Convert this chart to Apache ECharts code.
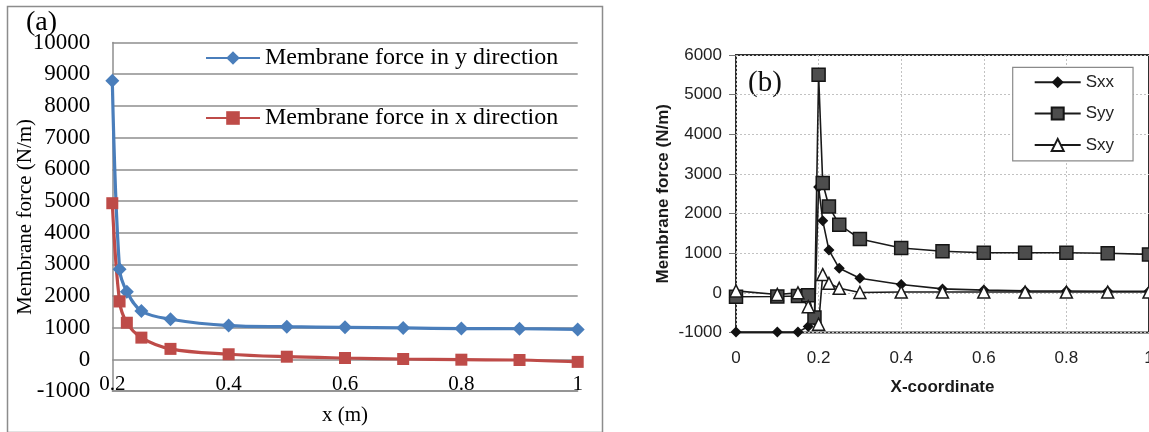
<!DOCTYPE html>
<html>
<head>
<meta charset="utf-8">
<script src="https://cdn.jsdelivr.net/npm/echarts@6/dist/echarts.min.js"></script>
<style>
  html, body { margin: 0; padding: 0; background: #ffffff; }
  #chart { width: 1149px; height: 432px; }
</style>
</head>
<body>
<div id="chart"></div>
<script>
// ---- Panel (a): computed membrane forces along the strip (N/m) ----
const xA = [0.2, 0.2125, 0.225, 0.25, 0.3, 0.4, 0.5, 0.6, 0.7, 0.8, 0.9, 1.0];
const forceYDir = [8790, 2850, 2140, 1530, 1270, 1070, 1035, 1015, 995, 975, 970, 950];
const forceXDir = [4930, 1830, 1160, 690, 335, 165, 88, 47, 16, -6, -16, -75];
const seriesNamesA = ['Membrane force in y direction', 'Membrane force in x direction'];

// ---- Panel (b): reference solution (N/m) ----
const xB  = [0, 0.1, 0.15, 0.175, 0.19, 0.2, 0.21, 0.225, 0.25, 0.3, 0.4, 0.5, 0.6, 0.7, 0.8, 0.9, 1.0];
const sxx = [-990, -990, -990, -850, -700, 2670, 1820, 1080, 620, 370, 210, 100, 70, 50, 45, 40, 40];
const syy = [-100, -90, -80, -60, -620, 5500, 2770, 2180, 1720, 1360, 1130, 1050, 1010, 1010, 1010, 1000, 970];
const sxy = [50, -40, 0, -350, null, -790, 460, 240, 115, 10, 20, 20, 20, 20, 20, 20, 20];
const seriesNamesB = ['Sxx', 'Syy', 'Sxy'];

const pairs = (xs, ys) => xs.map((x, i) => [x, ys[i]]);
const plainInt = v => String(Math.round(v));
const oneDecimal = v => String(Math.round(v * 10) / 10);

const SERIF = 'Liberation Serif';
const SANS = 'Liberation Sans';
const GRID_GREY = '#8e8e8e';
const DASH_GREY = '#c2c2c2';

const chart = echarts.init(document.getElementById('chart'), null, { renderer: 'canvas' });

chart.setOption({
  backgroundColor: '#ffffff',
  animation: false,
  graphic: [
    // frame around panel (a)
    { type: 'rect', left: 5, top: 4, shape: { x: 0, y: 0, width: 595, height: 426 },
      style: { fill: 'none', stroke: '#8c8c8c', lineWidth: 1.5 }, silent: true },
    { type: 'text', left: 26, top: 9,
      style: { text: '(a)', font: '28px "Liberation Serif"', fill: '#000' } },
    { type: 'text', left: 748, top: 69,
      style: { text: '(b)', font: '29px "Liberation Serif"', fill: '#111' } }
  ],
  grid: [
    { left: 112.3, top: 42.5, width: 465.4, height: 348.7, outerBoundsMode: 'none', containLabel: false },
    { left: 736, top: 55, width: 413, height: 277.5, outerBoundsMode: 'none', containLabel: false,
      show: true, borderColor: '#2e2e2e', borderWidth: 2, backgroundColor: 'transparent' }
  ],
  xAxis: [
    {
      gridIndex: 0, type: 'value', min: 0.2, max: 1, interval: 0.2,
      name: 'x (m)', nameLocation: 'middle', nameGap: 14, nameMoveOverlap: false,
      nameTextStyle: { fontFamily: SERIF, fontSize: 21, color: '#000' },
      axisLine: { show: true, onZero: false, lineStyle: { color: GRID_GREY, width: 1.5 } },
      axisTick: { show: false },
      splitLine: { show: false },
      axisLabel: { inside: true, margin: -4, fontFamily: SERIF, fontSize: 21, color: '#000',
        formatter: oneDecimal }
    },
    {
      gridIndex: 1, type: 'value', min: 0, max: 1, interval: 0.2,
      name: 'X-coordinate', nameLocation: 'middle', nameGap: 46, nameMoveOverlap: false,
      nameTextStyle: { fontFamily: SANS, fontSize: 17, fontWeight: 'bold', color: '#1a1a1a' },
      axisLine: { show: false },
      axisTick: { show: false },
      splitLine: { show: true, lineStyle: { color: DASH_GREY, width: 1, type: [2, 2] } },
      axisLabel: { margin: 17, fontFamily: SANS, fontSize: 17, color: '#222',
        formatter: oneDecimal }
    }
  ],
  yAxis: [
    {
      gridIndex: 0, type: 'value', min: -1000, max: 10000, interval: 1000,
      name: 'Membrane force (N/m)', nameLocation: 'middle', nameGap: 76, nameMoveOverlap: false,
      nameTextStyle: { fontFamily: SERIF, fontSize: 21, color: '#000' },
      axisLine: { show: true, lineStyle: { color: GRID_GREY, width: 1.5 } },
      axisTick: { show: false },
      splitLine: { show: true, lineStyle: { color: GRID_GREY, width: 1.5 } },
      axisLabel: { margin: 22, fontFamily: SERIF, fontSize: 23, color: '#000', formatter: plainInt }
    },
    {
      gridIndex: 1, type: 'value', min: -1000, max: 6000, interval: 1000,
      name: 'Membrane force (N/m)', nameLocation: 'middle', nameGap: 64, nameMoveOverlap: false,
      nameTextStyle: { fontFamily: SANS, fontSize: 17, fontWeight: 'bold', color: '#1a1a1a' },
      axisLine: { show: false },
      axisTick: { show: true, inside: false, length: 7, lineStyle: { color: '#777', width: 1 } },
      splitLine: { show: true, lineStyle: { color: DASH_GREY, width: 1, type: [2, 2] } },
      axisLabel: { margin: 14, fontFamily: SANS, fontSize: 17, color: '#222', formatter: plainInt }
    }
  ],
  legend: [
    {
      data: seriesNamesA, orient: 'vertical', left: 205, top: 46, padding: 0,
      itemWidth: 54, itemHeight: 17, itemGap: 36,
      textStyle: { fontFamily: SERIF, fontSize: 24, color: '#000' }
    },
    {
      data: seriesNamesB, orient: 'vertical', left: 1012.7, top: 67.3,
      padding: [6.5, 19, 7.5, 21], borderColor: '#8a8a8a', borderWidth: 1.2,
      backgroundColor: '#ffffff',
      itemWidth: 46, itemHeight: 15, itemGap: 14.3,
      textStyle: { fontFamily: SANS, fontSize: 17, color: '#222' }
    }
  ],
  series: [
    {
      name: seriesNamesA[0], type: 'line', xAxisIndex: 0, yAxisIndex: 0,
      data: pairs(xA, forceYDir), smooth: 0.35,
      symbol: 'diamond', symbolSize: 14,
      lineStyle: { color: '#4a7ebb', width: 3.2 },
      itemStyle: { color: '#4a7ebb' }
    },
    {
      name: seriesNamesA[1], type: 'line', xAxisIndex: 0, yAxisIndex: 0,
      data: pairs(xA, forceXDir), smooth: 0.35,
      symbol: 'rect', symbolSize: 12,
      lineStyle: { color: '#be4b48', width: 3.2 },
      itemStyle: { color: '#be4b48' }
    },
    {
      name: seriesNamesB[0], type: 'line', xAxisIndex: 1, yAxisIndex: 1,
      data: pairs(xB, sxx), connectNulls: true,
      symbol: 'diamond', symbolSize: 11,
      lineStyle: { color: '#1a1a1a', width: 1.6 },
      itemStyle: { color: '#111111' }
    },
    {
      name: seriesNamesB[1], type: 'line', xAxisIndex: 1, yAxisIndex: 1,
      data: pairs(xB, syy), connectNulls: true,
      symbol: 'rect', symbolSize: 13,
      lineStyle: { color: '#1a1a1a', width: 1.6 },
      itemStyle: { color: '#4d4d4d', borderColor: '#151515', borderWidth: 1.5 }
    },
    {
      name: seriesNamesB[2], type: 'line', xAxisIndex: 1, yAxisIndex: 1,
      data: pairs(xB, sxy), connectNulls: true,
      symbol: 'triangle', symbolSize: 12,
      lineStyle: { color: '#1a1a1a', width: 1.6 },
      itemStyle: { color: '#ffffff', borderColor: '#1a1a1a', borderWidth: 1.5 }
    }
  ]
});
</script>
</body>
</html>
